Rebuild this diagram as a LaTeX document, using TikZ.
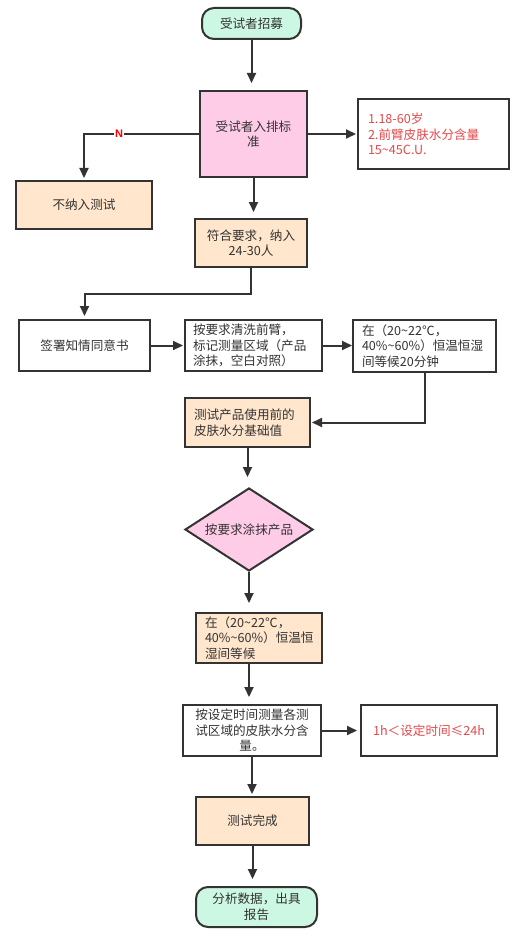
\documentclass[tikz,border=0pt]{standalone}
\usepackage{fontspec}
\setmainfont{Noto Sans CJK SC}
\setsansfont{Liberation Sans}
\usetikzlibrary{shapes.geometric,arrows.meta}
\definecolor{lc}{HTML}{333333}
\definecolor{mint}{HTML}{CCF7E2}
\definecolor{pinkf}{HTML}{FFCCE8}
\definecolor{peach}{HTML}{FFE6CC}
\definecolor{redt}{HTML}{E5484A}
\tikzset{
  box/.style={draw=lc, line width=2pt, rectangle, inner sep=0pt, text=lc,
    font=\fontsize{12.6}{15.5}\selectfont, align=center},
  term/.style={box, rounded corners=12pt, fill=mint},
  conn/.style={draw=lc, line width=2pt, -{Triangle[length=10pt,width=9pt]}},
}
\begin{document}
\begin{tikzpicture}[x=1pt,y=-1pt]
\useasboundingbox[fill=white] (0,0) rectangle (526,936);
\node[term, minimum width=99pt, minimum height=31pt] (start) at (251.5,23.5) {受试者招募};
\node[box, fill=pinkf, minimum width=107pt, minimum height=86pt] (crit) at (253.5,134) {受试者入排标\\准};
\node[box, minimum width=151pt, minimum height=70pt, text width=131pt, align=left, text=redt] (req) at (433.5,134) {1.18-60岁\\2.前臂皮肤水分含量\\15\textasciitilde45C.U.};
\node[box, fill=peach, minimum width=136pt, minimum height=48pt] (excl) at (84,205) {不纳入测试};
\node[box, fill=peach, minimum width=112pt, minimum height=48pt] (ok) at (251,243) {符合要求，纳入\\24-30人};
\node[box, minimum width=131pt, minimum height=51pt] (sign) at (84.5,345.5) {签署知情同意书};
\node[box, minimum width=137pt, minimum height=51pt, text width=121pt, align=left] (wash) at (253.5,345.5) {按要求清洗前臂，\\标记测量区域（产品\\涂抹，空白对照）};
\node[box, minimum width=143pt, minimum height=52pt, text width=125pt, align=left] (wait1) at (424.5,346) {在（20\textasciitilde22℃，\\40\%\textasciitilde60\%）恒温恒湿\\间等候20分钟};
\node[box, fill=peach, minimum width=125pt, minimum height=49pt, text width=107pt, align=left] (base) at (247.5,422.5) {测试产品使用前的\\皮肤水分基础值};
\node[box, diamond, fill=pinkf, aspect=1.54, minimum width=128pt, minimum height=83pt] (dia) at (249,529.5) {按要求涂抹产品};
\node[box, fill=peach, minimum width=126pt, minimum height=50pt, text width=108pt, align=left] (wait2) at (259,638) {在（20\textasciitilde22℃，\\40\%\textasciitilde60\%）恒温恒\\湿间等候};
\node[box, minimum width=138pt, minimum height=51pt, text width=122pt] (meas) at (252,730.5) {按设定时间测量各测\\试区域的皮肤水分含\\量。};
\node[box, minimum width=136pt, minimum height=51pt, text=redt] (limit) at (429,730.5) {1h＜设定时间≤24h};
\node[box, fill=peach, minimum width=113pt, minimum height=48pt] (done) at (252.5,821) {测试完成};
\node[term, minimum width=121pt, minimum height=40pt] (end) at (256.5,907) {分析数据，出具\\报告};

\draw[conn, shorten >=7pt] (start.south) -- (start.south |- crit.north);
\draw[conn, shorten >=6pt] (crit.south) -- (crit.south |- ok.north);
\draw[conn, shorten >=2pt] (crit.west) -- (excl.north |- crit.west) -- (excl.north);
\node[fill=white, inner sep=1pt, text=red, font=\sffamily\bfseries\fontsize{11}{11}\selectfont] (nlab) at (119,134) {N};
\draw[conn, shorten >=1pt] (crit.east) -- (req.west);
\draw[conn, shorten >=3pt] (ok.south) -- ++(0,26) -| (sign.north);
\draw[conn, shorten >=1pt] (sign.east) -- (wash.west);
\draw[conn, shorten >=0pt] (wash.east) -- (wash.east -| wait1.west);
\draw[conn, shorten >=1pt] (wait1.south) -- (wait1.south |- base.east) -- (base.east);
\draw[conn, shorten >=10pt] (base.south) -- (base.south |- dia.north);
\draw[conn, shorten >=9pt] (dia.south) -- (dia.south |- wait2.north);
\draw[conn, shorten >=7pt] (wait2.south -| dia.south) -- (meas.north -| dia.south);
\draw[conn, shorten >=3pt] (meas.east) -- (limit.west);
\draw[conn, shorten >=2pt] (meas.south) -- (meas.south |- done.north);
\draw[conn, shorten >=7pt] (done.south) -- (done.south |- end.north);
\end{tikzpicture}
\end{document}
